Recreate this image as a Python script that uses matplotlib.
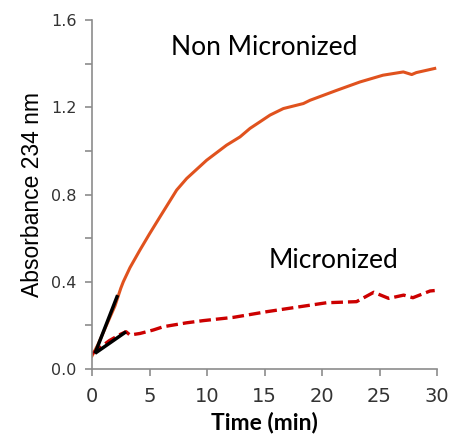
import numpy as np
import matplotlib.pyplot as plt
from matplotlib.ticker import MultipleLocator

# Non micronized (solid orange)
t_non = [0.0, 0.5, 1.0, 1.5, 2.0, 2.5, 2.72, 3.3, 4.17, 5.0, 5.91, 7.36, 8.23, 9.97,
         11.7, 12.87, 13.74, 14.6, 15.48, 16.64, 18.38, 18.96, 21.3, 23.3, 25.3,
         27.07, 27.8, 28.2, 29.8]
a_non = [0.06, 0.11, 0.17, 0.23, 0.29, 0.37, 0.40, 0.465, 0.546, 0.62, 0.698, 0.821,
         0.874, 0.958, 1.027, 1.065, 1.104, 1.134, 1.165, 1.195, 1.218, 1.233, 1.279,
         1.317, 1.348, 1.363, 1.351, 1.36, 1.379]

# Micronized (dashed red)
t_mic = [0.0, 0.5, 1.0, 1.5, 2.0, 2.5, 2.96, 3.3, 4.17, 5.33, 6.2, 8.23, 9.68, 12.3,
         15.2, 18.1, 20.4, 23.0, 24.5, 25.8, 27.1, 27.9, 29.4, 29.8]
a_mic = [0.07, 0.09, 0.11, 0.13, 0.145, 0.16, 0.171, 0.156, 0.163, 0.179, 0.194, 0.212,
         0.222, 0.237, 0.263, 0.286, 0.304, 0.309, 0.352, 0.324, 0.339, 0.327, 0.358, 0.36]

# initial-rate tangent lines
tan_non_t = [0.26, 2.23]
tan_non_a = [0.072, 0.339]
tan_mic_t = [0.26, 2.96]
tan_mic_a = [0.072, 0.171]

fig = plt.figure(figsize=(4.51, 4.37), dpi=100)
ax = fig.add_axes([0.204, 0.1556, 0.765, 0.798])

ax.plot(t_non, a_non, color='#E0521E', lw=2.2)
ax.plot(t_mic, a_mic, color='#CC0000', lw=2.4, ls=(0, (3.5, 1.5)))
ax.plot(tan_non_t, tan_non_a, color='black', lw=2.5, solid_capstyle='butt')
ax.plot(tan_mic_t, tan_mic_a, color='black', lw=2.5, solid_capstyle='butt')

ax.set_xlim(0, 30)
ax.set_ylim(0, 1.6)
ax.xaxis.set_major_locator(MultipleLocator(5))
ax.yaxis.set_major_locator(MultipleLocator(0.4))
ax.yaxis.set_minor_locator(MultipleLocator(0.2))
ax.yaxis.set_major_formatter(plt.FuncFormatter(lambda v, p: f'{v:.1f}'))

for s in ['top', 'right']:
    ax.spines[s].set_visible(False)
for s in ['left', 'bottom']:
    ax.spines[s].set_color('#8c8c8c')
    ax.spines[s].set_linewidth(1.2)

ax.tick_params(axis='both', which='both', color='#8c8c8c', width=1.2, length=5,
               labelcolor='#333333')
ax.tick_params(axis='y', which='major', labelsize=11.5, pad=6)
ax.tick_params(axis='x', which='major', labelsize=14, pad=8)
for lab in ax.get_yticklabels():
    lab.set_family('DejaVu Sans')
for lab in ax.get_xticklabels():
    lab.set_family('DejaVu Sans')

ax.set_ylabel('Absorbance 234 nm', family='Liberation Sans', fontsize=16.5, labelpad=5)
ax.set_xlabel('Time (min)', family='Lato', fontweight='bold', fontsize=16.5, labelpad=4)

ax.text(14.95, 1.477, 'Non Micronized', family='Lato', fontsize=19, ha='center', va='center')
ax.text(21.0, 0.5, 'Micronized', family='Lato', fontsize=19, ha='center', va='center')

fig.savefig('out.png', dpi=100)
